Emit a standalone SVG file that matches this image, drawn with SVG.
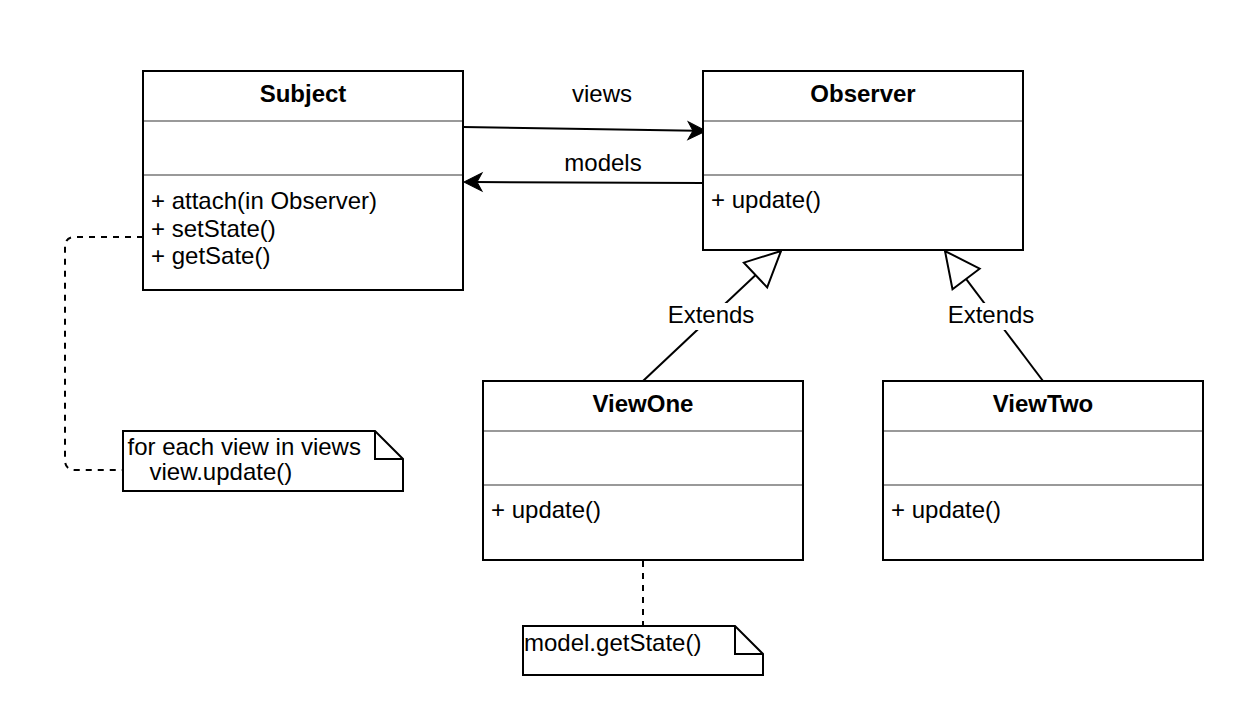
<svg xmlns="http://www.w3.org/2000/svg" width="1240" height="720" viewBox="0 0 1240 720">
  <style>
    .box { fill: #fff; stroke: #000; stroke-width: 2; }
    .div { stroke: #999; stroke-width: 2; fill: none; }
    .title { font-family: "Liberation Sans", Arial, sans-serif; font-size: 24px; font-weight: bold; text-anchor: middle; fill: #000; }
    .txt { font-family: "Liberation Sans", Arial, sans-serif; font-size: 24px; fill: #000; }
    .mid { text-anchor: middle; }
    .line { fill: none; stroke: #000; stroke-width: 2; }
    .dash { fill: none; stroke: #000; stroke-width: 2; stroke-dasharray: 6 6; }
    .note { fill: #fff; stroke: #000; stroke-width: 2; stroke-linejoin: miter; }
  </style>
  <defs>
    <marker id="arrow" viewBox="-30 -12 34 24" refX="-10" refY="0" markerWidth="34" markerHeight="24" markerUnits="userSpaceOnUse" orient="auto">
      <path d="M0,0 L-18,-9 L-13,0 L-18,9 Z" fill="#000" stroke="#000" stroke-width="1"/>
    </marker>
    <marker id="inherit" viewBox="-40 -20 44 40" refX="0" refY="0" markerWidth="44" markerHeight="40" markerUnits="userSpaceOnUse" orient="auto">
      <path d="M0,0 L-35,-17 L-35,17 Z" fill="#fff" stroke="#000" stroke-width="2"/>
    </marker>
  </defs>
  <rect width="1240" height="720" fill="#fff"/>

  <g id="connectors">
    <path class="line" d="M463,127 L696,130.8" marker-end="url(#arrow)"/>
    <text class="txt mid" x="602" y="102">views</text>
    <path class="line" d="M703,183 L474,182" marker-end="url(#arrow)"/>
    <text class="txt mid" x="603" y="171">models</text>
    <path class="line" d="M643,381 L781,251" marker-end="url(#inherit)"/>
    <rect x="672" y="303" width="78" height="27" fill="#fff"/>
    <text class="txt mid" x="711" y="323">Extends</text>
    <path class="line" d="M1043,381 L945,251" marker-end="url(#inherit)"/>
    <rect x="952" y="303" width="78" height="27" fill="#fff"/>
    <text class="txt mid" x="991" y="323">Extends</text>
    <path class="dash" d="M143,237 H75 Q65,237 65,247 V460 Q65,470 75,470 H123"/>
    <path class="dash" d="M643,561 V626"/>
  </g>

  <g id="subject">
    <rect class="box" x="143" y="71" width="320" height="219"/>
    <line class="div" x1="144" y1="121" x2="462" y2="121"/>
    <line class="div" x1="144" y1="175" x2="462" y2="175"/>
    <text class="title" x="303" y="102">Subject</text>
    <text class="txt" x="151" y="209">+ attach(in Observer)</text>
    <text class="txt" x="151" y="236.5">+ setState()</text>
    <text class="txt" x="151" y="264">+ getSate()</text>
  </g>

  <g id="observer">
    <rect class="box" x="703" y="71" width="320" height="179"/>
    <line class="div" x1="704" y1="121" x2="1022" y2="121"/>
    <line class="div" x1="704" y1="175" x2="1022" y2="175"/>
    <text class="title" x="863" y="102">Observer</text>
    <text class="txt" x="711" y="208">+ update()</text>
  </g>

  <g id="viewone">
    <rect class="box" x="483" y="381" width="320" height="179"/>
    <line class="div" x1="484" y1="431" x2="802" y2="431"/>
    <line class="div" x1="484" y1="485" x2="802" y2="485"/>
    <text class="title" x="643" y="412">ViewOne</text>
    <text class="txt" x="491" y="518">+ update()</text>
  </g>

  <g id="viewtwo">
    <rect class="box" x="883" y="381" width="320" height="179"/>
    <line class="div" x1="884" y1="431" x2="1202" y2="431"/>
    <line class="div" x1="884" y1="485" x2="1202" y2="485"/>
    <text class="title" x="1043" y="412">ViewTwo</text>
    <text class="txt" x="891" y="518">+ update()</text>
  </g>

  <g id="note-subject">
    <path class="note" d="M123,431 H375 L403,459 V491 H123 Z"/>
    <path class="line" d="M375,431 V459 H403"/>
    <text class="txt" x="127.5" y="455">for each view in views</text>
    <text class="txt" x="149.5" y="479.5">view.update()</text>
  </g>

  <g id="note-viewone">
    <path class="note" d="M523,626 H735 L763,654 V675 H523 Z"/>
    <path class="line" d="M735,626 V654 H763"/>
    <text class="txt" x="524" y="651">model.getState()</text>
  </g>
</svg>
